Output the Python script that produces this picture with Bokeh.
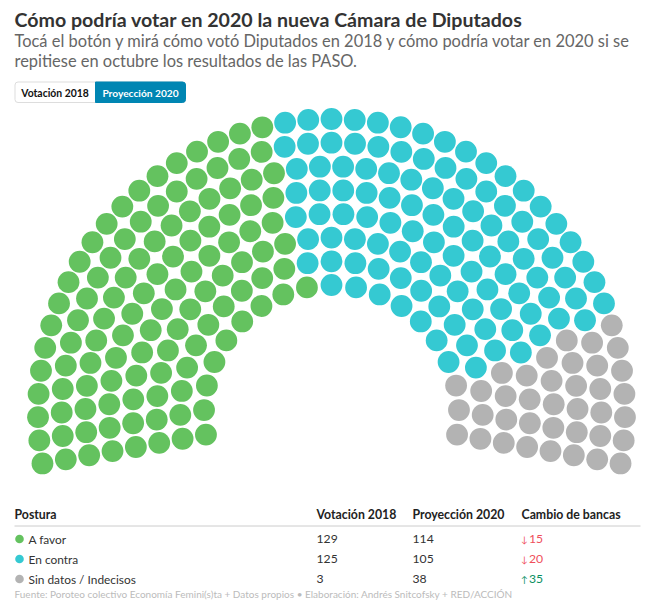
import math
from bokeh.plotting import figure
from bokeh.models import Range1d, ColumnDataSource
from bokeh.core.properties import value
from bokeh.embed import file_html
from bokeh.resources import INLINE

TITLE = "Cómo podría votar en 2020 la nueva Cámara de Diputados"
SUBTITLE = ["Tocá el botón y mirá cómo votó Diputados en 2018 y cómo podría votar en 2020 si se",
            "repitiese en octubre los resultados de las PASO."]
BUTTONS = ["Votación 2018", "Proyección 2020"]
HEADERS = ["Postura", "Votación 2018", "Proyección 2020", "Cambio de bancas"]
CATEGORIES = ["A favor", "En contra", "Sin datos / Indecisos"]
VOTES_2018 = [129, 125, 3]
VOTES_2020 = [114, 105, 38]
CHANGE = [-15, -20, 35]
SOURCE = "Fuente: Poroteo colectivo Economía Femini(s)ta + Datos propios • Elaboración: Andrés Snitcofsky + RED/ACCIÓN"

# seats per hemicycle row, inner to outer, by position
ROW_FAVOR = [9, 10, 12, 13, 15, 17, 18, 20]
ROW_CONTRA = [7, 10, 11, 13, 14, 15, 17, 18]
ROW_SIN = [3, 3, 4, 4, 5, 6, 6, 7]

GREEN, CYAN, GREY = "#64c25f", "#35c9d2", "#b3b3b3"
COLORS = [GREEN, CYAN, GREY]
FONT = "Lato"

W, H = 641, 600
p = figure(width=W, height=H, output_backend="svg", toolbar_location=None,
           x_range=Range1d(0, W), y_range=Range1d(H, 0),
           min_border=0, outline_line_color=None, background_fill_color="white")
p.axis.visible = False
p.grid.visible = False

# hemicycle layout
CX, CY = 331.0, 412.0
R_IN, R_OUT = 127.5, 293.5
ARC_START, ARC = -10.0, 200.0
xs, ys, cs = [], [], []
nrows = len(ROW_FAVOR)
for i in range(nrows):
    r = R_IN + (R_OUT - R_IN) * i / (nrows - 1)
    colors = [GREEN] * ROW_FAVOR[i] + [CYAN] * ROW_CONTRA[i] + [GREY] * ROW_SIN[i]
    n = len(colors)
    for j, c in enumerate(colors):
        a = math.radians(ARC_START + ARC * j / (n - 1))
        xs.append(CX - r * math.cos(a))
        ys.append(CY - r * math.sin(a))
        cs.append(c)
p.scatter(x="x", y="y", color="c", size=21.8, line_color=None,
          source=ColumnDataSource(dict(x=xs, y=ys, c=cs)))

def txt(x, y, s, size, color="#222222", bold=False, align="left"):
    p.text(x=[x], y=[y], text=[s], text_font=value(FONT), text_font_size=f"{size}px",
           text_color=color, text_font_style="bold" if bold else "normal",
           text_align=align, text_baseline="middle")

# heading
txt(14, 19, TITLE, 19.6, "#333333", True)
txt(14, 40, SUBTITLE[0], 16.45, "#666666")
txt(14, 60.5, SUBTITLE[1], 16.45, "#666666")

# buttons
p.quad(left=[14.5], right=[185], top=[81.5], bottom=[102], fill_color="white",
       line_color="#dddddd", border_radius=3)
p.quad(left=[95], right=[185], top=[81.5], bottom=[102], fill_color="#0086b3",
       line_color="#0086b3", border_radius=(0, 3, 3, 0))
txt(54.5, 92, BUTTONS[0], 10.4, "#111111", True, "center")
txt(140, 92, BUTTONS[1], 10.2, "#ffffff", True, "center")

# table
COLX = [14, 316, 412, 521]
for x, h in zip(COLX, HEADERS):
    txt(x, 514, h, 12.3, "#222222", True)
p.segment(x0=[14], x1=[640], y0=[525.5], y1=[525.5], line_color="#cccccc", line_width=1)
ROWY = [538.5, 558.5, 578.5]
p.scatter(x=[19] * 3, y=ROWY, size=8.6, color=COLORS, line_color=None)
for y, cat, a, b, ch in zip(ROWY, CATEGORIES, VOTES_2018, VOTES_2020, CHANGE):
    txt(28, y, cat, 11.9, "#333333")
    txt(COLX[1], y, str(a), 12.2, "#333333")
    txt(COLX[2], y, str(b), 12.2, "#333333")
    col = "#ef4f5c" if ch < 0 else "#0a8f5f"
    txt(COLX[3] - 0.5, y, "↓" if ch < 0 else "↑", 9, col)
    txt(COLX[3] + 7.5, y, str(abs(ch)), 12.2, col)

txt(14, 593, SOURCE, 10.0, "#bbbbbb")

open("out.html", "w").write(file_html(p, INLINE))
